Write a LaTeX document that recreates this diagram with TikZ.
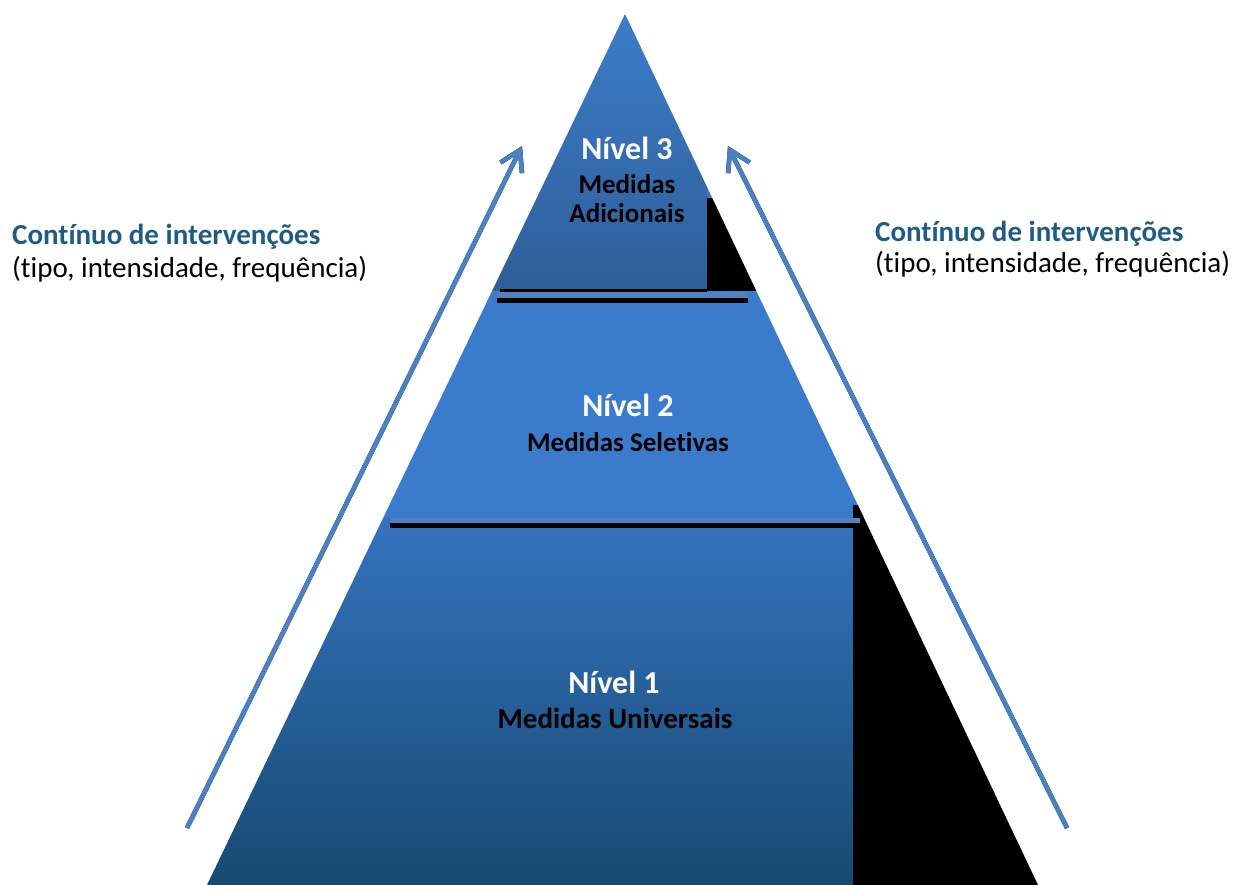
\documentclass[tikz,border=0pt]{standalone}
\usepackage{fontspec}
\setmainfont{Carlito}[Ligatures=NoCommon]
\usetikzlibrary{arrows.meta}
\definecolor{titleblue}{RGB}{31,92,133}
\definecolor{arrowblue}{RGB}{74,128,196}
\definecolor{bandblue}{RGB}{80,130,190}
\definecolor{topA}{RGB}{61,126,204}
\definecolor{topB}{RGB}{46,94,152}
\definecolor{midA}{RGB}{59,123,203}
\definecolor{botA}{RGB}{53,115,190}
\definecolor{botB}{RGB}{22,74,114}
\begin{document}
\begin{tikzpicture}[x=1pt,y=-1pt,
  lvlnum/.style={font=\fontsize{32}{36}\selectfont\bfseries, text=white, inner sep=0pt, anchor=base},
  lvltxt/.style={font=\fontsize{27}{32}\selectfont\bfseries, text=black, inner sep=0pt, anchor=base},
  lvltxtb/.style={font=\fontsize{29}{34}\selectfont\bfseries, text=black, inner sep=0pt, anchor=base},
  sidetitle/.style={font=\fontsize{29}{34}\selectfont\bfseries, text=titleblue, inner sep=0pt, anchor=base west},
  sidesub/.style={font=\fontsize{29}{34}\selectfont, text=black, inner sep=0pt, anchor=base west},
  arr/.style={line width=4.5pt, arrowblue, -{Straight Barb[length=20pt,width=24pt]}},
  arrshadow/.style={line width=4.5pt, black, -{Straight Barb[length=20pt,width=24pt]}, shift={(1.5,2.5)}}
]
\useasboundingbox (0,0) rectangle (1235,885);
\coordinate (apex) at (625,14);
\coordinate (bl) at (207,885);
\coordinate (br) at (1038,885);
\begin{scope}
  \clip (apex) -- (br) -- (bl) -- cycle;
  % level 3
  \shade[top color=topA, bottom color=topB] (400,0) rectangle (707,291);
  \fill[black] (707,198) rectangle (900,291);
  \fill[topA!80!topB] (707,0) rectangle (900,198);
  % level 2
  \fill[midA] (300,291) rectangle (1000,518);
  \fill[black] (853,505) rectangle (1000,518);
  % level 1
  \shade[top color=botA, bottom color=botB] (150,518) rectangle (853,885);
  \fill[black] (853,518) rectangle (1100,885);
\end{scope}
% separators
\fill[black] (500,289) rectangle (707,292);
\fill[bandblue] (497,292) rectangle (748,298);
\fill[black] (497,298) rectangle (748,303);
\fill[bandblue] (390,517.5) rectangle (860,522.5);
\fill[black] (390,522.5) rectangle (853,527.5);
% arrows
\coordinate (lt) at (187,828);
\coordinate (lh) at (522,146);
\coordinate (rt) at (1067,828);
\coordinate (rh) at (728,146);
\draw[arrshadow] (lt) -- (lh);
\draw[arr] (lt) -- (lh);
\draw[arrshadow] (rt) -- (rh);
\draw[arr] (rt) -- (rh);
% level texts
\node[lvlnum] (n3) at (627,160) {Nível 3};
\node[lvltxt] (m3a) at (627,194) {Medidas};
\node[lvltxt] (m3b) at (627,223) {Adicionais};
\node[lvlnum] (n2) at (628,417) {Nível 2};
\node[lvltxt] (m2) at (628,451) {Medidas Seletivas};
\node[lvlnum] (n1) at (614,693) {Nível 1};
\node[lvltxtb] (m1) at (615,728) {Medidas Universais};
% side labels
\node[sidetitle] (lt1) at (12,245) {Contínuo de intervenções};
\node[sidesub] (lt2) at (12,278) {(tipo, intensidade, frequência)};
\node[sidetitle] (rt1) at (875,242) {Contínuo de intervenções};
\node[sidesub] (rt2) at (875,273) {(tipo, intensidade, frequência)};
\end{tikzpicture}
\end{document}
